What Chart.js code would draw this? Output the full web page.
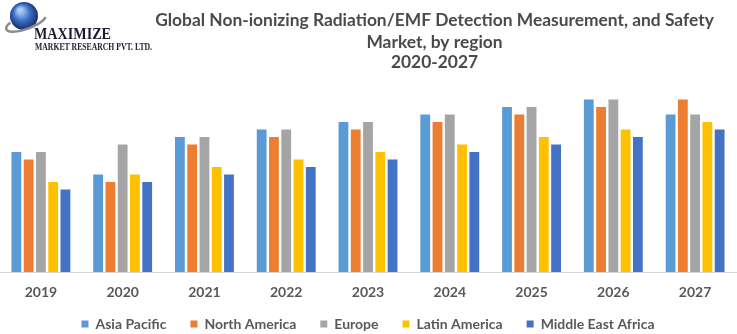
<!DOCTYPE html>
<html>
<head>
<meta charset="utf-8">
<script src="https://cdn.jsdelivr.net/npm/chart.js@4/dist/chart.umd.min.js"></script>
<style>
  html, body { margin: 0; padding: 0; background: #fff; }
  #wrap { width: 737px; height: 334px; }
</style>
</head>
<body>
<div id="wrap"><canvas id="regionChart" width="737" height="334"></canvas></div>
<script>
const years = ['2019', '2020', '2021', '2022', '2023', '2024', '2025', '2026', '2027'];
const asiaPacific      = [16, 13, 18, 19, 20, 21, 22, 23, 21];
const northAmerica     = [15, 12, 17, 18, 19, 20, 21, 22, 23];
const europe           = [16, 17, 18, 19, 20, 21, 22, 23, 21];
const latinAmerica     = [12, 13, 14, 15, 16, 17, 18, 19, 20];
const middleEastAfrica = [11, 12, 13, 14, 15, 16, 17, 18, 19];

const titleLines = [
  'Global Non-ionizing Radiation/EMF Detection Measurement, and Safety',
  'Market, by region',
  '2020-2027'
];
const brandName = 'MAXIMIZE';
const brandSub = 'MARKET RESEARCH PVT. LTD.';

const textGrey = '#595959';
const labelFont = { family: 'Lato', size: 14, weight: 'bold' };

// logo in the corner + centred heading
const headerPlugin = {
  id: 'header',
  afterDraw(chart) {
    const ctx = chart.ctx;
    ctx.save();

    // globe
    const g = ctx.createRadialGradient(20, 10, 2, 24, 16, 16);
    g.addColorStop(0, '#a9cdf5');
    g.addColorStop(0.45, '#3a6fc4');
    g.addColorStop(1, '#0e1f5a');
    ctx.fillStyle = g;
    ctx.beginPath();
    ctx.arc(24, 16, 14, 0, Math.PI * 2);
    ctx.fill();
    ctx.strokeStyle = '#8c8c8c';
    ctx.lineWidth = 2.5;
    ctx.beginPath();
    ctx.ellipse(26, 22, 21, 7, -0.35, 0.3, Math.PI * 1.25);
    ctx.stroke();

    ctx.fillStyle = '#1a1a33';
    ctx.textAlign = 'left';
    ctx.textBaseline = 'alphabetic';
    ctx.font = 'bold 16px "Liberation Serif"';
    ctx.fillText(brandName, 34, 39, 77);
    ctx.font = 'bold 11px "Liberation Serif"';
    ctx.fillText(brandSub, 35, 50, 117);

    // heading, first line sized to span 559px
    ctx.font = 'bold 16px Lato';
    const size = 16 * 559 / ctx.measureText(titleLines[0]).width;
    ctx.font = 'bold ' + size.toFixed(2) + 'px Lato';
    ctx.fillStyle = '#4a4a4a';
    ctx.textAlign = 'center';
    const baselines = [26, 47.5, 68];
    titleLines.forEach((line, i) => ctx.fillText(line, 434.5, baselines[i]));
    ctx.restore();
  }
};

const ctx = document.getElementById('regionChart').getContext('2d');
const regionChart = new Chart(ctx, {
  type: 'bar',
  data: {
    labels: years,
    datasets: [
      { label: 'Asia Pacific', data: asiaPacific, backgroundColor: '#5B9BD5' },
      { label: 'North America', data: northAmerica, backgroundColor: '#ED7D31' },
      { label: 'Europe', data: europe, backgroundColor: '#A5A5A5' },
      { label: 'Latin America', data: latinAmerica, backgroundColor: '#FFC000' },
      { label: 'Middle East Africa', data: middleEastAfrica, backgroundColor: '#4472C4' }
    ]
  },
  options: {
    responsive: false,
    animation: false,
    layout: { padding: { top: 84.5, left: 0, right: 1, bottom: -7 } },
    datasets: { bar: { categoryPercentage: 0.75, barPercentage: 0.8 } },
    plugins: {
      legend: {
        position: 'bottom',
        labels: {
          boxWidth: 7,
          boxHeight: 7,
          padding: 24,
          color: textGrey,
          font: labelFont
        }
      },
      tooltip: { enabled: false }
    },
    scales: {
      x: {
        grid: { display: false, drawTicks: false },
        border: { color: '#d9d9d9', width: 1 },
        // mirrored + negative padding puts the year labels ~20px under the axis
        // without them being clipped to the (thin) axis box
        ticks: { color: textGrey, mirror: true, padding: -28.4, font: labelFont },
        afterFit(scale) { scale.height = 21; }
      },
      y: { display: false, min: 0, max: 25 }
    }
  },
  plugins: [headerPlugin]
});
</script>
</body>
</html>
